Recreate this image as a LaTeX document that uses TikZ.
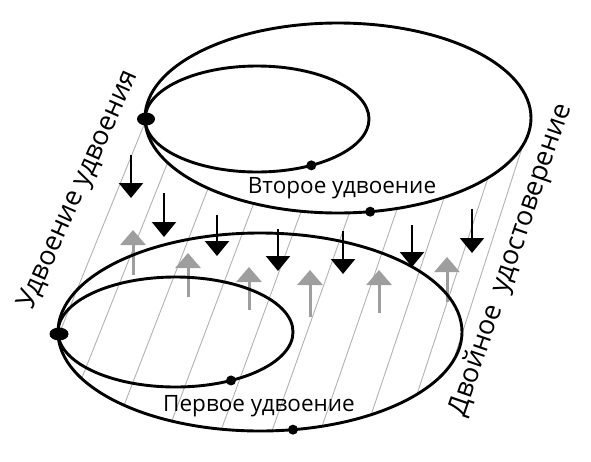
\documentclass[tikz,border=0pt]{standalone}
\usepackage{fontspec}
\setmainfont{Open Sans}
\usetikzlibrary{arrows.meta}
\begin{document}
\begin{tikzpicture}[x=1pt,y=-1pt,
  ring/.style={line width=2.9pt},
  hatch/.style={draw=black!30, line width=0.9pt},
  downarr/.style={line width=2.5pt, -{Triangle[width=24pt,length=15pt]}},
  uparr/.style={draw=black!38, line width=3pt, -{Triangle[width=25pt,length=15pt]}, color=black!38},
  bigdot/.style={fill=black},
  lab/.style={font=\fontsize{22.5}{22.5}\selectfont, inner sep=0pt},
  sidelab/.style={font=\fontsize{27}{27}\selectfont, inner sep=0pt}]
\useasboundingbox (0,0) rectangle (591,461);
% hatching (side surface)
\foreach \t [count=\i] in {177.6,152,132.3,115.9,101,86.6,72.1,56.6,39,16.7}{
  \coordinate (ht\i) at ([shift={(338,118)}]\t:193 and 95);
  \coordinate (hb\i) at ([shift={(260,332)}]\t:202 and 99);
  \draw[hatch] (ht\i) -- (hb\i);
}
% gray up arrows
\foreach \x/\a/\b [count=\i] in {133/275/230,188/297/253,249/310/267,310/317/270,379/313/270,447/302/257}{
  \coordinate (us\i) at (\x,\a);
  \coordinate (ue\i) at (\x,\b);
  \draw[uparr] (us\i) -- (ue\i);
}
% rings
\draw[ring] (338,118) ellipse [x radius=193, y radius=95];
\draw[ring] (257,119) ellipse [x radius=112, y radius=53];
\draw[ring] (260,332) ellipse [x radius=202, y radius=99];
\draw[ring] (175.5,332) ellipse [x radius=117.5, y radius=55];
% black down arrows
\foreach \x/\a/\b [count=\i] in {131/155/198,164/193/237,217/215/256,278/229/271,343/231/274,412/225/267,472/209/253}{
  \coordinate (ds\i) at (\x,\a);
  \coordinate (de\i) at (\x,\b);
  \draw[downarr] (ds\i) -- (de\i);
}
% dots
\fill[bigdot] (146,119) ellipse [x radius=9, y radius=6.5];
\fill[bigdot] (59,334) ellipse [x radius=9.5, y radius=6.5];
\fill[bigdot] ([shift={(257,119)}]61:112 and 53) circle (5);
\fill[bigdot] ([shift={(338,118)}]80.4:193 and 95) circle (5);
\fill[bigdot] ([shift={(175.5,332)}]61.8:117.5 and 55) circle (5);
\fill[bigdot] ([shift={(260,332)}]80.6:202 and 99) circle (5);
% labels
\node[lab] (second) at (342,188) {Второе удвоение};
\node[lab] (first) at (259,406) {Первое удвоение};
\node[sidelab, rotate=66] (left) at (79,190) {Удвоение удвоения};
\node[sidelab, rotate=71] (right) at (511,260) {Двойное\ \ удостоверение};
\end{tikzpicture}
\end{document}
